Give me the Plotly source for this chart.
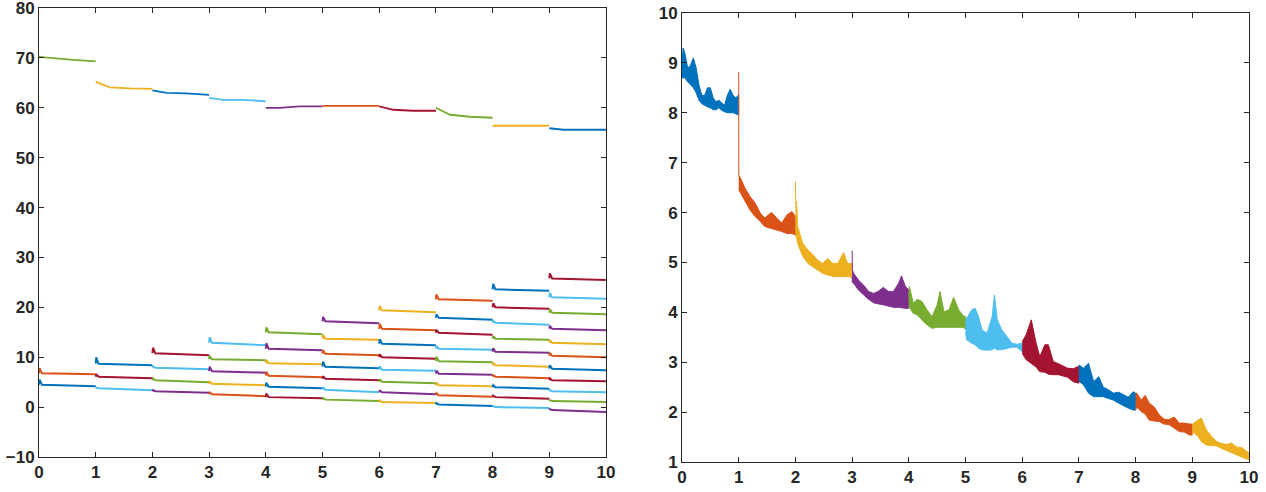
import plotly.graph_objects as go

# MATLAB default colour order
PAL = {"blue": "#0072BD", "orange": "#D95319", "yellow": "#EDB120", "purple": "#7E2F8E",
       "green": "#77AC30", "lightblue": "#4DBEEE", "darkred": "#A2142F"}

# ---------------- left panel data ----------------
# upper line in each unit interval, values at offsets below
top_offsets = [0.0, 0.25, 0.6, 1.0]
top_colors = ["green", "yellow", "blue", "lightblue", "purple", "orange", "darkred", "green", "yellow", "blue"]
top_vals = [
    [70.2, 69.9, 69.6, 69.3],
    [65.2, 64.1, 63.9, 63.8],
    [63.5, 63.0, 62.9, 62.6],
    [62.0, 61.6, 61.6, 61.3],
    [60.0, 60.0, 60.3, 60.3],
    [60.4, 60.4, 60.4, 60.4],
    [60.3, 59.6, 59.4, 59.4],
    [60.0, 58.6, 58.2, 58.0],
    [56.4, 56.4, 56.4, 56.4],
    [55.9, 55.6, 55.6, 55.6],
]

# lower lines in each unit interval (top to bottom)
low_colors = [
    ["orange", "blue"],
    ["blue", "darkred", "lightblue"],
    ["darkred", "lightblue", "green", "purple"],
    ["lightblue", "green", "purple", "yellow", "orange"],
    ["green", "purple", "yellow", "orange", "blue", "darkred"],
    ["purple", "yellow", "orange", "blue", "darkred", "lightblue", "green"],
    ["yellow", "orange", "blue", "darkred", "lightblue", "green", "purple", "yellow"],
    ["orange", "blue", "darkred", "lightblue", "green", "purple", "yellow", "orange", "blue"],
    ["blue", "darkred", "lightblue", "green", "purple", "yellow", "orange", "blue", "darkred", "lightblue"],
    ["darkred", "lightblue", "green", "purple", "yellow", "orange", "blue", "darkred", "lightblue", "green", "purple"],
]
low_peak = [
    [7.8, 5.5],
    [10.0, 6.6, 3.9],
    [11.9, 8.2, 5.8, 3.4],
    [14.0, 10.3, 8.1, 5.2, 2.9],
    [16.0, 12.8, 9.4, 7.1, 4.9, 2.7],
    [18.1, 14.5, 11.4, 9.1, 6.2, 4.0, 1.8],
    [20.3, 16.7, 13.6, 10.6, 8.2, 5.6, 3.3, 1.3],
    [22.6, 18.6, 15.5, 12.2, 10.1, 7.3, 4.9, 2.8, 0.8],
    [24.7, 20.8, 17.3, 14.2, 11.8, 8.9, 6.4, 4.4, 2.3, 0.2],
    [26.8, 22.9, 19.6, 16.3, 13.4, 10.9, 8.4, 5.8, 3.4, 1.4, -0.4],
]
low_start = [
    [6.8, 4.5],
    [8.7, 6.1, 3.8],
    [10.8, 7.9, 5.4, 3.2],
    [12.9, 9.6, 7.2, 4.7, 2.6],
    [15.0, 11.7, 8.8, 6.3, 4.1, 2.0],
    [17.2, 13.7, 10.7, 8.1, 5.7, 3.5, 1.5],
    [19.4, 15.7, 12.7, 10.0, 7.5, 5.1, 3.0, 1.0],
    [21.6, 17.9, 14.9, 11.7, 9.2, 6.7, 4.4, 2.4, 0.5],
    [23.6, 20.0, 16.9, 13.7, 11.1, 8.4, 6.1, 4.0, 2.0, 0.0],
    [25.8, 22.0, 18.9, 15.7, 12.9, 10.3, 7.7, 5.4, 3.2, 1.2, -0.6],
]
low_end = [
    [6.6, 4.2],
    [8.4, 5.8, 3.4],
    [10.4, 7.6, 5.0, 2.9],
    [12.4, 9.4, 6.9, 4.4, 2.2],
    [14.6, 11.4, 8.6, 6.0, 3.8, 1.8],
    [16.8, 13.5, 10.4, 7.8, 5.4, 3.0, 1.2],
    [19.0, 15.4, 12.4, 9.7, 7.3, 4.8, 2.6, 0.8],
    [21.3, 17.5, 14.5, 11.5, 9.0, 6.5, 4.2, 2.1, 0.2],
    [23.3, 19.7, 16.5, 13.5, 10.9, 8.1, 5.8, 3.7, 1.7, -0.2],
    [25.5, 21.7, 18.6, 15.4, 12.6, 10.0, 7.4, 5.2, 3.0, 1.0, -1.0],
]

# ---------------- right panel data (noise band: upper / lower envelope) ----------------
r_colors = ["blue", "orange", "yellow", "purple", "green", "lightblue", "darkred", "blue", "orange", "yellow"]
r_x = [
    [0, 0.02, 0.05, 0.1, 0.15, 0.2, 0.25, 0.3, 0.35, 0.4, 0.45, 0.5, 0.55, 0.6, 0.65, 0.7, 0.75, 0.8, 0.85, 0.9, 0.95, 1.0],
    [1.0, 1.003, 1.02, 1.11, 1.2, 1.29, 1.38, 1.46, 1.52, 1.58, 1.67, 1.76, 1.85, 1.94, 2.0],
    [2.0, 2.005, 2.02, 2.04, 2.13, 2.22, 2.31, 2.39, 2.48, 2.57, 2.66, 2.75, 2.85, 2.92, 3.0],
    [3.0, 3.005, 3.03, 3.11, 3.2, 3.29, 3.38, 3.46, 3.55, 3.64, 3.73, 3.82, 3.87, 3.94, 4.0],
    [4.0, 4.01, 4.08, 4.15, 4.23, 4.32, 4.41, 4.5, 4.55, 4.62, 4.71, 4.79, 4.88, 4.96, 5.0],
    [5.0, 5.02, 5.11, 5.17, 5.23, 5.29, 5.38, 5.47, 5.51, 5.56, 5.64, 5.73, 5.82, 5.91, 6.0],
    [6.0, 6.07, 6.16, 6.24, 6.31, 6.4, 6.46, 6.55, 6.64, 6.72, 6.8, 6.9, 7.0],
    [7.0, 7.08, 7.17, 7.26, 7.35, 7.43, 7.52, 7.61, 7.7, 7.79, 7.87, 7.96, 8.0],
    [8.0, 8.02, 8.1, 8.17, 8.24, 8.33, 8.42, 8.5, 8.59, 8.68, 8.77, 8.86, 8.95, 9.0],
    [9.0, 9.02, 9.1, 9.16, 9.25, 9.34, 9.43, 9.52, 9.61, 9.69, 9.78, 9.87, 9.96, 10.0],
]
r_up = [
    [9.0, 9.3, 9.2, 8.9, 8.95, 9.1, 8.9, 8.55, 8.35, 8.35, 8.5, 8.5, 8.3, 8.22, 8.25, 8.2, 8.15, 8.35, 8.47, 8.35, 8.3, 8.36],
    [8.82, 6.75, 6.72, 6.49, 6.32, 6.19, 5.99, 5.89, 5.95, 6.0, 5.89, 5.79, 5.95, 6.02, 5.92],
    [6.62, 6.2, 6.22, 5.72, 5.38, 5.25, 5.15, 5.05, 4.98, 5.08, 4.98, 4.98, 5.2, 4.98, 4.98],
    [5.24, 4.85, 4.78, 4.65, 4.55, 4.42, 4.38, 4.42, 4.50, 4.42, 4.42, 4.58, 4.73, 4.52, 4.45],
    [4.3, 4.52, 4.18, 4.26, 4.22, 4.05, 3.91, 4.15, 4.42, 4.01, 4.05, 4.30, 4.05, 3.93, 3.91],
    [3.85, 3.88, 4.05, 4.08, 3.91, 3.65, 3.58, 3.91, 4.35, 3.85, 3.65, 3.51, 3.38, 3.36, 3.38],
    [3.41, 3.55, 3.85, 3.41, 3.11, 3.35, 3.35, 3.01, 2.97, 2.92, 2.88, 2.87, 2.92],
    [2.95, 2.88, 2.98, 2.61, 2.71, 2.50, 2.45, 2.38, 2.40, 2.34, 2.30, 2.41, 2.38],
    [2.38, 2.38, 2.24, 2.34, 2.18, 2.10, 1.94, 1.86, 1.85, 1.90, 1.78, 1.78, 1.76, 1.76],
    [1.72, 1.78, 1.84, 1.88, 1.64, 1.51, 1.41, 1.37, 1.35, 1.38, 1.30, 1.29, 1.21, 1.18],
]
r_lo = [
    [8.7, 8.7, 8.7, 8.62, 8.55, 8.5, 8.4, 8.25, 8.18, 8.15, 8.12, 8.1, 8.06, 8.06, 8.1, 8.05, 8.02, 8.0, 8.0, 8.0, 7.98, 7.95],
    [6.45, 6.45, 6.42, 6.25, 6.05, 5.92, 5.82, 5.72, 5.70, 5.68, 5.65, 5.62, 5.58, 5.58, 5.55],
    [5.55, 5.55, 5.5, 5.38, 5.12, 4.98, 4.92, 4.85, 4.78, 4.75, 4.72, 4.72, 4.72, 4.72, 4.70],
    [4.7, 4.6, 4.58, 4.45, 4.35, 4.26, 4.19, 4.17, 4.15, 4.13, 4.10, 4.10, 4.10, 4.08, 4.08],
    [4.08, 4.1, 3.98, 3.95, 3.85, 3.75, 3.68, 3.70, 3.70, 3.70, 3.70, 3.70, 3.70, 3.70, 3.66],
    [3.6, 3.45, 3.38, 3.35, 3.28, 3.25, 3.24, 3.25, 3.28, 3.25, 3.25, 3.28, 3.30, 3.30, 3.21],
    [3.18, 3.05, 2.98, 2.91, 2.81, 2.80, 2.76, 2.75, 2.75, 2.72, 2.70, 2.61, 2.58],
    [2.62, 2.55, 2.38, 2.31, 2.31, 2.31, 2.28, 2.24, 2.18, 2.12, 2.08, 2.04, 2.04],
    [2.04, 2.10, 2.01, 1.96, 1.84, 1.82, 1.81, 1.76, 1.75, 1.68, 1.61, 1.60, 1.54, 1.54],
    [1.55, 1.60, 1.51, 1.41, 1.34, 1.33, 1.32, 1.27, 1.22, 1.18, 1.14, 1.10, 1.06, 1.05],
]

fig = go.Figure()

# left panel
for k in range(10):
    fig.add_trace(go.Scatter(
        x=[k + o for o in top_offsets], y=top_vals[k], mode="lines",
        line=dict(color=PAL[top_colors[k]], width=1.8), xaxis="x", yaxis="y",
        showlegend=False, hoverinfo="skip"))
    for c, pk, st, en in zip(low_colors[k], low_peak[k], low_start[k], low_end[k]):
        fig.add_trace(go.Scatter(
            x=[k, k + 0.01, k + 0.05, k + 1], y=[st, pk, st, en], mode="lines",
            line=dict(color=PAL[c], width=2), xaxis="x", yaxis="y",
            showlegend=False, hoverinfo="skip"))

# right panel
for k in range(10):
    xs = r_x[k] + r_x[k][::-1]
    ys = r_up[k] + r_lo[k][::-1]
    fig.add_trace(go.Scatter(
        x=xs, y=ys, mode="lines", fill="toself", fillcolor=PAL[r_colors[k]],
        line=dict(color=PAL[r_colors[k]], width=1), xaxis="x2", yaxis="y2",
        showlegend=False, hoverinfo="skip"))

axcol = "#262626"
tickfont = dict(family="Liberation Sans, Arial, sans-serif", size=17, color=axcol, weight="bold")
common = dict(showgrid=False, zeroline=False, showline=True, linecolor=axcol, linewidth=1,
              mirror="ticks", ticks="inside", ticklen=5, tickcolor=axcol, tickwidth=1,
              tickfont=tickfont, automargin=False, ticklabeloverflow="allow")

fig.update_layout(
    width=1266, height=492, margin=dict(l=0, r=0, t=0, b=0),
    paper_bgcolor="white", plot_bgcolor="white", showlegend=False,
    xaxis=dict(domain=[39 / 1266, 606 / 1266], range=[0, 10.0001], tickvals=list(range(11)),
               anchor="y", **common),
    yaxis=dict(domain=[(492 - 457) / 492, (492 - 8) / 492], range=[-10, 80.0001],
               tickvals=list(range(-10, 81, 10)), anchor="x", **common),
    xaxis2=dict(domain=[682 / 1266, 1249 / 1266], range=[0, 10.0001], tickvals=list(range(11)),
                anchor="y2", **common),
    yaxis2=dict(domain=[(492 - 462) / 492, (492 - 13) / 492], range=[1, 10.0001],
                tickvals=list(range(1, 11)), anchor="x2", **common),
)

fig.write_html("out.html", config={"displayModeBar": False, "staticPlot": True})

# remove the default page margin so the figure sits at the window's top-left corner
with open("out.html", "r", encoding="utf-8") as f:
    html = f.read()
html = html.replace("<head>", "<head><style>html,body{margin:0;padding:0;overflow:hidden;}</style>", 1)
with open("out.html", "w", encoding="utf-8") as f:
    f.write(html)
